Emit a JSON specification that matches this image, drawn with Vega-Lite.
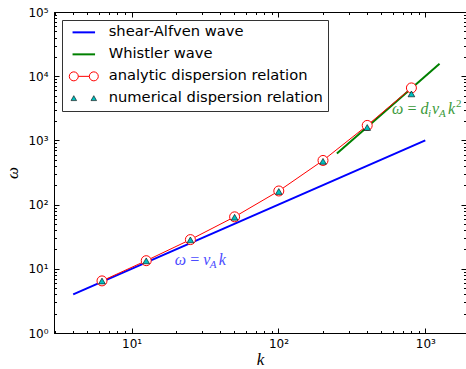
{
  "$schema": "https://vega.github.io/schema/vega-lite/v6.json",
  "width": 412,
  "height": 321,
  "autosize": {"type": "none"},
  "padding": {"left": 54, "top": 12, "right": 0, "bottom": 36},
  "config": {
    "view": {"stroke": "black", "strokeWidth": 1},
    "axis": {
      "domainColor": "black",
      "tickColor": "black",
      "labelFont": "DejaVu Sans",
      "labelFontSize": 12,
      "labelColor": "black",
      "titleFont": "Liberation Serif",
      "titleFontStyle": "italic",
      "titleFontWeight": "normal",
      "titleFontSize": 17,
      "titleColor": "black",
      "grid": false,
      "labelOverlap": false,
      "labelFlush": false
    },
    "legend": {
      "title": null, "orient": "top-left", "offset": 8, "padding": 5,
      "strokeColor": "#333333", "fillColor": "white", "cornerRadius": 0,
      "labelFont": "DejaVu Sans", "labelFontSize": 14.7, "labelColor": "black", "labelLimit": 400,
      "labelOffset": 27, "rowPadding": 6, "symbolSize": 900
    }
  },
  "resolve": {"axis": {"x": "independent", "y": "independent"}},
  "layer": [
    {
      "data": {"values": [
        {"k": 4, "w": 4, "s": "shear-Alfven wave"},
        {"k": 1000, "w": 1000, "s": "shear-Alfven wave"}
      ]},
      "mark": {"type": "line", "strokeWidth": 2},
      "encoding": {
        "x": {"field": "k", "type": "quantitative", "scale": {"type": "log", "domain": [2.96, 1893], "nice": false},
          "axis": {"orient": "bottom", "title": "k", "titlePadding": 0,
            "values": [3,4,5,6,7,8,9,10,20,30,40,50,60,70,80,90,100,200,300,400,500,600,700,800,900,1000],
            "tickSize": {"condition": {"test": "abs(log(datum.value)/LN10 - round(log(datum.value)/LN10)) < 0.001", "value": -5}, "value": -2.5},
            "labelPadding": 10,
            "labelExpr": "abs(log(datum.value)/LN10 - round(log(datum.value)/LN10)) < 0.001 ? '10' + ['⁰','¹','²','³','⁴','⁵'][round(log(datum.value)/LN10)] : ''"}},
        "y": {"field": "w", "type": "quantitative", "scale": {"type": "log", "domain": [1, 100000], "nice": false},
          "axis": {"orient": "left", "title": "ω", "titlePadding": 6, "titleAngle": -90,
            "values": [1,2,3,4,5,6,7,8,9,10,20,30,40,50,60,70,80,90,100,200,300,400,500,600,700,800,900,1000,2000,3000,4000,5000,6000,7000,8000,9000,10000,20000,30000,40000,50000,60000,70000,80000,90000,100000],
            "tickSize": {"condition": {"test": "abs(log(datum.value)/LN10 - round(log(datum.value)/LN10)) < 0.001", "value": -5}, "value": -2.5},
            "labelPadding": 11,
            "labelExpr": "abs(log(datum.value)/LN10 - round(log(datum.value)/LN10)) < 0.001 ? '10' + ['⁰','¹','²','³','⁴','⁵'][round(log(datum.value)/LN10)] : ''"}},
        "stroke": {"field": "s", "type": "nominal",
          "scale": {"domain": ["shear-Alfven wave", "Whistler wave", "analytic dispersion relation", "numerical dispersion relation"],
                    "range": ["#0000ff", "#008000", "#ff0000", "#000000"]},
          "legend": {
            "encode": {"symbols": {"update": {
              "shape": {"signal": "datum.value == 'analytic dispersion relation' ? 'M0.263,0H0.997M0.263,0A0.3,0.3,0,1,1,-0.337,0A0.3,0.3,0,1,1,0.263,0ZM1.597,0A0.3,0.3,0,1,1,0.997,0A0.3,0.3,0,1,1,1.597,0Z' : datum.value == 'numerical dispersion relation' ? 'M-0.22,0.15L0.15,0.15L-0.037,-0.18ZM1.11,0.15L1.48,0.15L1.297,-0.18Z' : 'M-0.12,0H1.38'"},
              "strokeWidth": {"signal": "datum.value == 'analytic dispersion relation' ? 1 : datum.value == 'numerical dispersion relation' ? 0.6 : 2"},
              "opacity": {"value": 1}
            }}}
          }}
      }
    },
    {
      "data": {"values": [
        {"k": 250, "w": 625, "s": "Whistler wave"},
        {"k": 1250, "w": 15625, "s": "Whistler wave"}
      ]},
      "mark": {"type": "line", "strokeWidth": 2},
      "encoding": {
        "x": {"field": "k", "type": "quantitative", "scale": {"type": "log", "domain": [2.96, 1893], "nice": false},
          "axis": {"orient": "top", "title": null, "labels": false, "domain": true,
            "values": [3,4,5,6,7,8,9,10,20,30,40,50,60,70,80,90,100,200,300,400,500,600,700,800,900,1000],
            "tickSize": {"condition": {"test": "abs(log(datum.value)/LN10 - round(log(datum.value)/LN10)) < 0.001", "value": -5}, "value": -2.5}}},
        "y": {"field": "w", "type": "quantitative", "scale": {"type": "log", "domain": [1, 100000], "nice": false},
          "axis": {"orient": "right", "title": null, "labels": false, "domain": false,
            "values": [1,2,3,4,5,6,7,8,9,10,20,30,40,50,60,70,80,90,100,200,300,400,500,600,700,800,900,1000,2000,3000,4000,5000,6000,7000,8000,9000,10000,20000,30000,40000,50000,60000,70000,80000,90000,100000],
            "tickSize": {"condition": {"test": "abs(log(datum.value)/LN10 - round(log(datum.value)/LN10)) < 0.001", "value": -5}, "value": -2.5}}},
        "stroke": {"field": "s", "type": "nominal"}
      }
    },
    {
      "data": {"values": [
        {"k": 6.283, "w": 6.48, "s": "analytic dispersion relation"},
        {"k": 12.57, "w": 13.38, "s": "analytic dispersion relation"},
        {"k": 25.13, "w": 28.49, "s": "analytic dispersion relation"},
        {"k": 50.27, "w": 64.47, "s": "analytic dispersion relation"},
        {"k": 100.53, "w": 163.0, "s": "analytic dispersion relation"},
        {"k": 201.06, "w": 487.2, "s": "analytic dispersion relation"},
        {"k": 402.12, "w": 1711, "s": "analytic dispersion relation"},
        {"k": 804.25, "w": 6567, "s": "analytic dispersion relation"}
      ]},
      "layer": [
        {"mark": {"type": "line", "strokeWidth": 1},
         "encoding": {
          "x": {"field": "k", "type": "quantitative", "axis": null},
          "y": {"field": "w", "type": "quantitative", "axis": null},
          "stroke": {"field": "s", "type": "nominal"}}},
        {"mark": {"type": "point", "shape": "circle", "filled": true, "strokeWidth": 1, "size": 100, "opacity": 1},
         "encoding": {
          "x": {"field": "k", "type": "quantitative", "axis": null},
          "y": {"field": "w", "type": "quantitative", "axis": null},
          "stroke": {"field": "s", "type": "nominal"},
          "fill": {"field": "s", "type": "nominal",
            "scale": {"domain": ["shear-Alfven wave", "Whistler wave", "analytic dispersion relation", "numerical dispersion relation"],
                      "range": ["transparent", "transparent", "#ffffff", "#00bfbf"]},
            "legend": {
              "encode": {"symbols": {"update": {
                "shape": {"signal": "datum.value == 'analytic dispersion relation' ? 'M0.263,0H0.997M0.263,0A0.3,0.3,0,1,1,-0.337,0A0.3,0.3,0,1,1,0.263,0ZM1.597,0A0.3,0.3,0,1,1,0.997,0A0.3,0.3,0,1,1,1.597,0Z' : datum.value == 'numerical dispersion relation' ? 'M-0.22,0.15L0.15,0.15L-0.037,-0.18ZM1.11,0.15L1.48,0.15L1.297,-0.18Z' : 'M-0.12,0H1.38'"},
                "strokeWidth": {"signal": "datum.value == 'analytic dispersion relation' ? 1 : datum.value == 'numerical dispersion relation' ? 0.6 : 2"},
                "opacity": {"value": 1}
              }}}
            }}}}
      ]
    },
    {
      "data": {"values": [
        {"k": 6.283, "w": 6.45, "s": "numerical dispersion relation"},
        {"k": 12.57, "w": 13.3, "s": "numerical dispersion relation"},
        {"k": 25.13, "w": 28.2, "s": "numerical dispersion relation"},
        {"k": 50.27, "w": 63.5, "s": "numerical dispersion relation"},
        {"k": 100.53, "w": 160, "s": "numerical dispersion relation"},
        {"k": 201.06, "w": 472, "s": "numerical dispersion relation"},
        {"k": 402.12, "w": 1590, "s": "numerical dispersion relation"},
        {"k": 804.25, "w": 5300, "s": "numerical dispersion relation"}
      ]},
      "mark": {"type": "point", "shape": "triangle-up", "filled": true, "strokeWidth": 0.6, "size": 45, "opacity": 1},
      "encoding": {
        "x": {"field": "k", "type": "quantitative", "axis": null},
        "y": {"field": "w", "type": "quantitative", "axis": null},
        "stroke": {"field": "s", "type": "nominal"},
        "fill": {"field": "s", "type": "nominal"}
      }
    },
    {
      "data": {"values": [{"k": 19.7, "w": 11.5}]},
      "layer": [
        {"mark": {"type": "text", "text": "ω\u2009=\u2009v", "align": "left", "baseline": "alphabetic", "font": "Liberation Serif", "fontStyle": "italic", "fontSize": 16, "color": "#4b4bff"},
         "encoding": {"x": {"field": "k", "type": "quantitative", "axis": null}, "y": {"field": "w", "type": "quantitative", "axis": null}}},
        {"mark": {"type": "text", "text": "A", "align": "left", "baseline": "alphabetic", "font": "Liberation Serif", "fontStyle": "italic", "fontSize": 11, "color": "#4b4bff", "dx": 35, "dy": 3},
         "encoding": {"x": {"field": "k", "type": "quantitative", "axis": null}, "y": {"field": "w", "type": "quantitative", "axis": null}}},
        {"mark": {"type": "text", "text": "k", "align": "left", "baseline": "alphabetic", "font": "Liberation Serif", "fontStyle": "italic", "fontSize": 16, "color": "#4b4bff", "dx": 44},
         "encoding": {"x": {"field": "k", "type": "quantitative", "axis": null}, "y": {"field": "w", "type": "quantitative", "axis": null}}}
      ]
    },
    {
      "data": {"values": [{"k": 594, "w": 2600}]},
      "layer": [
        {"mark": {"type": "text", "text": "ω\u2009=\u2009d", "align": "left", "baseline": "alphabetic", "font": "Liberation Serif", "fontStyle": "italic", "fontSize": 16, "color": "#3a9a3a"},
         "encoding": {"x": {"field": "k", "type": "quantitative", "axis": null}, "y": {"field": "w", "type": "quantitative", "axis": null}}},
        {"mark": {"type": "text", "text": "i", "align": "left", "baseline": "alphabetic", "font": "Liberation Serif", "fontStyle": "italic", "fontSize": 11, "color": "#3a9a3a", "dx": 36, "dy": 3},
         "encoding": {"x": {"field": "k", "type": "quantitative", "axis": null}, "y": {"field": "w", "type": "quantitative", "axis": null}}},
        {"mark": {"type": "text", "text": "v", "align": "left", "baseline": "alphabetic", "font": "Liberation Serif", "fontStyle": "italic", "fontSize": 16, "color": "#3a9a3a", "dx": 40},
         "encoding": {"x": {"field": "k", "type": "quantitative", "axis": null}, "y": {"field": "w", "type": "quantitative", "axis": null}}},
        {"mark": {"type": "text", "text": "A", "align": "left", "baseline": "alphabetic", "font": "Liberation Serif", "fontStyle": "italic", "fontSize": 11, "color": "#3a9a3a", "dx": 47, "dy": 3},
         "encoding": {"x": {"field": "k", "type": "quantitative", "axis": null}, "y": {"field": "w", "type": "quantitative", "axis": null}}},
        {"mark": {"type": "text", "text": "k", "align": "left", "baseline": "alphabetic", "font": "Liberation Serif", "fontStyle": "italic", "fontSize": 16, "color": "#3a9a3a", "dx": 56},
         "encoding": {"x": {"field": "k", "type": "quantitative", "axis": null}, "y": {"field": "w", "type": "quantitative", "axis": null}}},
        {"mark": {"type": "text", "text": "2", "align": "left", "baseline": "alphabetic", "font": "Liberation Serif", "fontSize": 11, "color": "#3a9a3a", "dx": 64, "dy": -7},
         "encoding": {"x": {"field": "k", "type": "quantitative", "axis": null}, "y": {"field": "w", "type": "quantitative", "axis": null}}}
      ]
    }
  ]
}
